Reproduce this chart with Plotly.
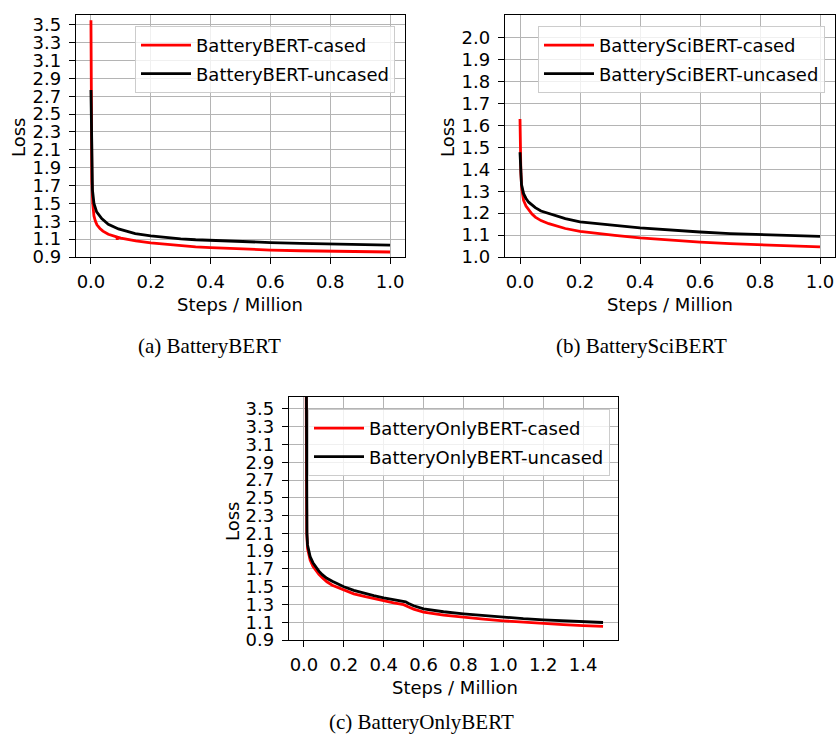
import plotly.graph_objects as go

W, H = 836, 736

# ---------------- data ----------------
# (a) BatteryBERT
a_cased_steps = [0, 0.001, 0.003, 0.006, 0.01, 0.015, 0.02, 0.03, 0.04, 0.058, 0.075, 0.086,
                 0.088, 0.09, 0.1, 0.125, 0.15, 0.2, 0.25, 0.3, 0.35, 0.4, 0.5, 0.6, 0.7, 0.8, 0.9, 1.0]
a_cased_loss = [3.55, 2.3, 1.75, 1.5, 1.36, 1.3, 1.26, 1.22, 1.19, 1.155, 1.135, 1.125,
                1.095, 1.122, 1.112, 1.095, 1.08, 1.057, 1.04, 1.025, 1.014, 1.005, 0.99, 0.978, 0.97, 0.965,
                0.96, 0.956]
a_uncased_steps = [0, 0.002, 0.005, 0.01, 0.019, 0.036, 0.058, 0.092, 0.12, 0.148, 0.2, 0.25, 0.3,
                   0.35, 0.4, 0.5, 0.6, 0.7, 0.8, 0.9, 1.0]
a_uncased_loss = [2.77, 2.0, 1.65, 1.5, 1.405, 1.33, 1.267, 1.214, 1.185, 1.162, 1.136, 1.117, 1.103,
                  1.093, 1.086, 1.073, 1.062, 1.053, 1.045, 1.038, 1.033]

# (b) BatterySciBERT
b_cased_steps = [0, 0.001, 0.003, 0.006, 0.012, 0.02, 0.029, 0.04, 0.051, 0.07, 0.096, 0.125,
                 0.151, 0.2, 0.25, 0.316, 0.4, 0.5, 0.6, 0.7, 0.8, 0.9, 1.0]
b_cased_loss = [1.63, 1.5, 1.38, 1.31, 1.258, 1.232, 1.213, 1.196, 1.182, 1.166, 1.152, 1.14,
                1.13, 1.117, 1.108, 1.099, 1.087, 1.077, 1.068, 1.061, 1.055, 1.05, 1.046]
b_uncased_steps = [0, 0.002, 0.005, 0.012, 0.02, 0.029, 0.04, 0.051, 0.07, 0.096, 0.125, 0.151,
                   0.2, 0.25, 0.316, 0.4, 0.5, 0.6, 0.7, 0.8, 0.9, 1.0]
b_uncased_loss = [1.478, 1.38, 1.33, 1.289, 1.267, 1.25, 1.236, 1.225, 1.21, 1.198, 1.186, 1.175,
                  1.16, 1.152, 1.144, 1.133, 1.123, 1.114, 1.107, 1.102, 1.098, 1.094]

# (c) BatteryOnlyBERT
c_cased_steps = [0.011, 0.012, 0.014, 0.018, 0.023, 0.031, 0.045, 0.058, 0.075, 0.092, 0.115, 0.142,
                 0.17, 0.2, 0.25, 0.308, 0.35, 0.4, 0.45, 0.5, 0.51, 0.525, 0.55, 0.6, 0.7, 0.8,
                 0.9, 1.0, 1.1, 1.2, 1.3, 1.4, 1.5]
c_cased_loss = [3.8, 2.5, 2.1, 1.93, 1.86, 1.8, 1.73, 1.69, 1.64, 1.6, 1.555, 1.517,
                1.49, 1.462, 1.42, 1.388, 1.365, 1.34, 1.318, 1.298, 1.29, 1.272, 1.248, 1.215, 1.18, 1.155,
                1.135, 1.116, 1.1, 1.085, 1.072, 1.062, 1.053]
c_uncased_steps = [0.012, 0.013, 0.015, 0.018, 0.023, 0.031, 0.045, 0.058, 0.075, 0.092, 0.115, 0.142,
                   0.17, 0.2, 0.25, 0.308, 0.35, 0.4, 0.45, 0.5, 0.51, 0.525, 0.55, 0.6, 0.7, 0.8,
                   0.9, 1.0, 1.1, 1.2, 1.3, 1.4, 1.5]
c_uncased_loss = [3.9, 2.6, 2.1, 1.97, 1.9, 1.838, 1.77, 1.727, 1.675, 1.635, 1.595, 1.561,
                  1.53, 1.499, 1.458, 1.421, 1.4, 1.375, 1.355, 1.338, 1.33, 1.312, 1.285, 1.25, 1.218, 1.195,
                  1.175, 1.155, 1.14, 1.127, 1.115, 1.105, 1.097]

# tick values
ab_x_ticks = [0.0, 0.2, 0.4, 0.6, 0.8, 1.0]
c_x_ticks = [0.0, 0.2, 0.4, 0.6, 0.8, 1.0, 1.2, 1.4]
ac_y_ticks = [0.9, 1.1, 1.3, 1.5, 1.7, 1.9, 2.1, 2.3, 2.5, 2.7, 2.9, 3.1, 3.3, 3.5]
b_y_ticks = [1.0, 1.1, 1.2, 1.3, 1.4, 1.5, 1.6, 1.7, 1.8, 1.9, 2.0]

names_a = ["BatteryBERT-cased", "BatteryBERT-uncased"]
names_b = ["BatterySciBERT-cased", "BatterySciBERT-uncased"]
names_c = ["BatteryOnlyBERT-cased", "BatteryOnlyBERT-uncased"]
captions = ["(a) BatteryBERT", "(b) BatterySciBERT", "(c) BatteryOnlyBERT"]
x_title = "Steps / Million"
y_title = "Loss"

RED = "#ff0000"
BLACK = "#000000"
FONT = "DejaVu Sans"
FS = 18

# ---------------- figure ----------------
fig = go.Figure()

def add_pair(xs1, ys1, xs2, ys2, names, xa, ya, leg):
    fig.add_trace(go.Scatter(x=xs1, y=ys1, mode="lines", name=names[0],
                             line=dict(color=RED, width=2.8), xaxis=xa, yaxis=ya,
                             legend=leg, legendgroup=leg + "1"))
    fig.add_trace(go.Scatter(x=xs2, y=ys2, mode="lines", name=names[1],
                             line=dict(color=BLACK, width=2.8), xaxis=xa, yaxis=ya,
                             legend=leg, legendgroup=leg + "2"))

add_pair(a_cased_steps, a_cased_loss, a_uncased_steps, a_uncased_loss, names_a, "x", "y", "legend")
add_pair(b_cased_steps, b_cased_loss, b_uncased_steps, b_uncased_loss, names_b, "x2", "y2", "legend2")
add_pair(c_cased_steps, c_cased_loss, c_uncased_steps, c_uncased_loss, names_c, "x3", "y3", "legend3")

def px_x(p):
    return p / W

def px_y(p):
    return 1 - p / H

axis_common = dict(
    showline=True, mirror=True, linecolor="black", linewidth=1.3,
    showgrid=True, gridcolor="#b4b4b4", gridwidth=1.2,
    ticks="outside", ticklen=6, tickwidth=1.3, tickcolor="black",
    zeroline=False, tickfont=dict(family=FONT, size=FS, color="black"),
    tickformat=".1f", automargin=False,
)

fig.update_layout(
    xaxis=dict(**axis_common, domain=[px_x(76), px_x(405)], range=[-0.05, 1.05],
               tickvals=ab_x_ticks, anchor="y", ticklabelstandoff=2),
    yaxis=dict(**axis_common, domain=[px_y(257), px_y(15)], range=[0.9, 3.61],
               tickvals=ac_y_ticks, anchor="x", ticklabelstandoff=4),
    xaxis2=dict(**axis_common, domain=[px_x(505), px_x(835)], range=[-0.05, 1.05],
                tickvals=ab_x_ticks, anchor="y2", ticklabelstandoff=2),
    yaxis2=dict(**axis_common, domain=[px_y(257), px_y(15)], range=[1.0, 2.104],
                tickvals=b_y_ticks, anchor="x2", ticklabelstandoff=4),
    xaxis3=dict(**axis_common, domain=[px_x(289), px_x(618)], range=[-0.075, 1.575],
                tickvals=c_x_ticks, anchor="y3", ticklabelstandoff=2),
    yaxis3=dict(**axis_common, domain=[px_y(640), px_y(397)], range=[0.9, 3.635],
                tickvals=ac_y_ticks, anchor="x3", ticklabelstandoff=4),
)

leg_common = dict(xanchor="right", yanchor="top", bgcolor="rgba(255,255,255,0.8)",
                  bordercolor="#cccccc", borderwidth=1, tracegroupgap=2, itemwidth=50,
                  font=dict(family=FONT, size=FS, color="black"))
fig.update_layout(
    legend=dict(**leg_common, x=px_x(395), y=px_y(26)),
    legend2=dict(**leg_common, x=px_x(825), y=px_y(26)),
    legend3=dict(**leg_common, x=px_x(610), y=px_y(409)),
)

ann = []
tfont = dict(family=FONT, size=FS, color="black")
# x-axis titles
for cx, cy in [(240, 304), (670, 304), (455, 687)]:
    ann.append(dict(text=x_title, x=px_x(cx), y=px_y(cy), xref="paper", yref="paper",
                    showarrow=False, font=tfont, xanchor="center", yanchor="middle"))
# y-axis titles
for cx, cy in [(18, 138), (447, 138), (232, 522)]:
    ann.append(dict(text=y_title, x=px_x(cx), y=px_y(cy), xref="paper", yref="paper",
                    showarrow=False, font=tfont, textangle=-90, xanchor="center", yanchor="middle"))
# captions
cfont = dict(family="Liberation Serif", size=21, color="black")
for txt, (cx, cy) in zip(captions, [(209, 346), (641, 346), (421, 722)]):
    ann.append(dict(text=txt, x=px_x(cx), y=px_y(cy), xref="paper", yref="paper",
                    showarrow=False, font=cfont, xanchor="center", yanchor="middle"))

fig.update_layout(
    annotations=ann,
    width=W, height=H, autosize=False,
    margin=dict(l=0, r=0, t=0, b=0),
    paper_bgcolor="white", plot_bgcolor="white",
    showlegend=True,
    font=dict(family=FONT, size=FS, color="black"),
)

fig.write_html(
    "out.html",
    config={"displayModeBar": False, "responsive": False},
    default_width="836px", default_height="736px",
    post_script="document.body.style.margin='0';document.body.style.overflow='hidden';",
)
